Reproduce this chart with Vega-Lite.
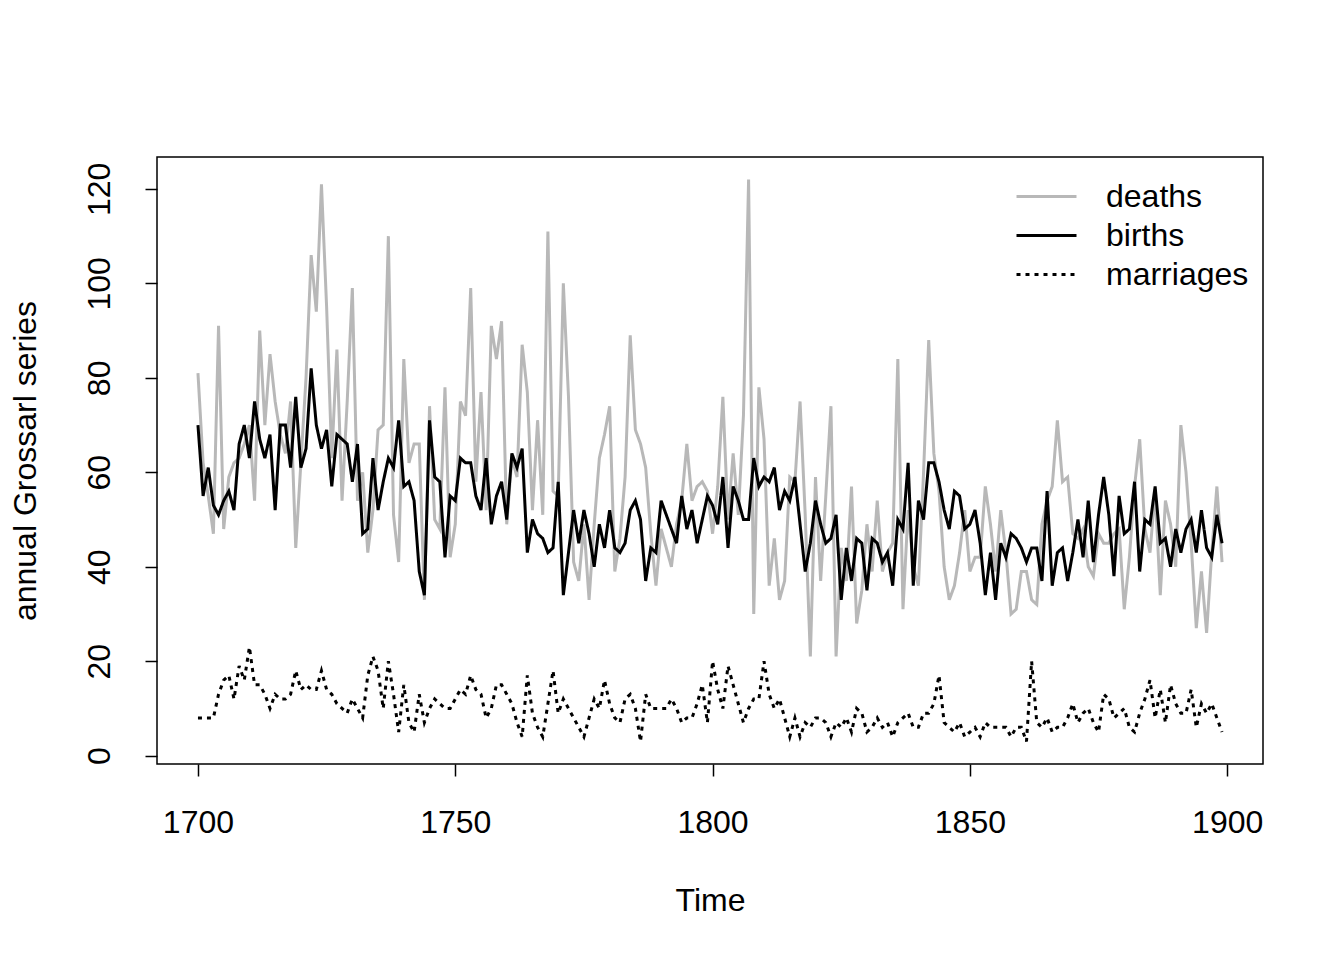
{
  "$schema": "https://vega.github.io/schema/vega-lite/v6.json",
  "autosize": "none",
  "width": 1106,
  "height": 607,
  "padding": {"left": 157, "top": 157, "right": 81, "bottom": 196},
  "background": "white",
  "config": {
    "font": "Liberation Sans",
    "view": {"stroke": "black", "strokeWidth": 1.5},
    "axis": {
      "grid": false,
      "domain": false,
      "tickColor": "black",
      "tickWidth": 1.5,
      "tickSize": 12,
      "labelColor": "black",
      "labelFontSize": 32,
      "labelFont": "Liberation Sans",
      "titleColor": "black",
      "titleFontSize": 32,
      "titleFont": "Liberation Sans",
      "titleFontWeight": "normal"
    }
  },
  "data": {
    "values": [
      {"year": 1700, "deaths": 81, "births": 70, "marriages": 8},
      {"year": 1701, "deaths": 62, "births": 55, "marriages": 8},
      {"year": 1702, "deaths": 55, "births": 61, "marriages": 8},
      {"year": 1703, "deaths": 47, "births": 53, "marriages": 8},
      {"year": 1704, "deaths": 91, "births": 51, "marriages": 13},
      {"year": 1705, "deaths": 48, "births": 54, "marriages": 16},
      {"year": 1706, "deaths": 59, "births": 56, "marriages": 17},
      {"year": 1707, "deaths": 62, "births": 52, "marriages": 12},
      {"year": 1708, "deaths": 63, "births": 66, "marriages": 19},
      {"year": 1709, "deaths": 66, "births": 70, "marriages": 16},
      {"year": 1710, "deaths": 70, "births": 63, "marriages": 23},
      {"year": 1711, "deaths": 54, "births": 75, "marriages": 15},
      {"year": 1712, "deaths": 90, "births": 67, "marriages": 15},
      {"year": 1713, "deaths": 70, "births": 63, "marriages": 13},
      {"year": 1714, "deaths": 85, "births": 68, "marriages": 10},
      {"year": 1715, "deaths": 75, "births": 52, "marriages": 13},
      {"year": 1716, "deaths": 68, "births": 70, "marriages": 12},
      {"year": 1717, "deaths": 64, "births": 70, "marriages": 12},
      {"year": 1718, "deaths": 75, "births": 61, "marriages": 13},
      {"year": 1719, "deaths": 44, "births": 76, "marriages": 18},
      {"year": 1720, "deaths": 62, "births": 61, "marriages": 14},
      {"year": 1721, "deaths": 80, "births": 65, "marriages": 15},
      {"year": 1722, "deaths": 106, "births": 82, "marriages": 14},
      {"year": 1723, "deaths": 94, "births": 70, "marriages": 14},
      {"year": 1724, "deaths": 121, "births": 65, "marriages": 18},
      {"year": 1725, "deaths": 95, "births": 69, "marriages": 14},
      {"year": 1726, "deaths": 63, "births": 57, "marriages": 13},
      {"year": 1727, "deaths": 86, "births": 68, "marriages": 11},
      {"year": 1728, "deaths": 54, "births": 67, "marriages": 10},
      {"year": 1729, "deaths": 75, "births": 66, "marriages": 9},
      {"year": 1730, "deaths": 99, "births": 58, "marriages": 12},
      {"year": 1731, "deaths": 54, "births": 66, "marriages": 10},
      {"year": 1732, "deaths": 60, "births": 47, "marriages": 8},
      {"year": 1733, "deaths": 43, "births": 48, "marriages": 17},
      {"year": 1734, "deaths": 52, "births": 63, "marriages": 21},
      {"year": 1735, "deaths": 69, "births": 52, "marriages": 18},
      {"year": 1736, "deaths": 70, "births": 58, "marriages": 10},
      {"year": 1737, "deaths": 110, "births": 63, "marriages": 20},
      {"year": 1738, "deaths": 51, "births": 61, "marriages": 13},
      {"year": 1739, "deaths": 41, "births": 71, "marriages": 5},
      {"year": 1740, "deaths": 84, "births": 57, "marriages": 15},
      {"year": 1741, "deaths": 62, "births": 58, "marriages": 7},
      {"year": 1742, "deaths": 66, "births": 54, "marriages": 5},
      {"year": 1743, "deaths": 66, "births": 39, "marriages": 13},
      {"year": 1744, "deaths": 33, "births": 34, "marriages": 7},
      {"year": 1745, "deaths": 74, "births": 71, "marriages": 10},
      {"year": 1746, "deaths": 50, "births": 59, "marriages": 12},
      {"year": 1747, "deaths": 48, "births": 58, "marriages": 11},
      {"year": 1748, "deaths": 78, "births": 42, "marriages": 10},
      {"year": 1749, "deaths": 42, "births": 55, "marriages": 10},
      {"year": 1750, "deaths": 49, "births": 54, "marriages": 12},
      {"year": 1751, "deaths": 75, "births": 63, "marriages": 14},
      {"year": 1752, "deaths": 72, "births": 62, "marriages": 13},
      {"year": 1753, "deaths": 99, "births": 62, "marriages": 17},
      {"year": 1754, "deaths": 58, "births": 55, "marriages": 14},
      {"year": 1755, "deaths": 77, "births": 52, "marriages": 13},
      {"year": 1756, "deaths": 52, "births": 63, "marriages": 8},
      {"year": 1757, "deaths": 91, "births": 49, "marriages": 10},
      {"year": 1758, "deaths": 84, "births": 55, "marriages": 15},
      {"year": 1759, "deaths": 92, "births": 58, "marriages": 15},
      {"year": 1760, "deaths": 49, "births": 50, "marriages": 13},
      {"year": 1761, "deaths": 63, "births": 64, "marriages": 11},
      {"year": 1762, "deaths": 59, "births": 61, "marriages": 7},
      {"year": 1763, "deaths": 87, "births": 65, "marriages": 4},
      {"year": 1764, "deaths": 77, "births": 43, "marriages": 17},
      {"year": 1765, "deaths": 52, "births": 50, "marriages": 9},
      {"year": 1766, "deaths": 71, "births": 47, "marriages": 6},
      {"year": 1767, "deaths": 51, "births": 46, "marriages": 4},
      {"year": 1768, "deaths": 111, "births": 43, "marriages": 11},
      {"year": 1769, "deaths": 56, "births": 44, "marriages": 18},
      {"year": 1770, "deaths": 55, "births": 58, "marriages": 9},
      {"year": 1771, "deaths": 100, "births": 34, "marriages": 12},
      {"year": 1772, "deaths": 76, "births": 43, "marriages": 10},
      {"year": 1773, "deaths": 41, "births": 52, "marriages": 8},
      {"year": 1774, "deaths": 37, "births": 45, "marriages": 6},
      {"year": 1775, "deaths": 49, "births": 52, "marriages": 4},
      {"year": 1776, "deaths": 33, "births": 47, "marriages": 8},
      {"year": 1777, "deaths": 49, "births": 40, "marriages": 12},
      {"year": 1778, "deaths": 63, "births": 49, "marriages": 10},
      {"year": 1779, "deaths": 68, "births": 44, "marriages": 16},
      {"year": 1780, "deaths": 74, "births": 52, "marriages": 11},
      {"year": 1781, "deaths": 39, "births": 44, "marriages": 8},
      {"year": 1782, "deaths": 46, "births": 43, "marriages": 7},
      {"year": 1783, "deaths": 59, "births": 45, "marriages": 12},
      {"year": 1784, "deaths": 89, "births": 52, "marriages": 13},
      {"year": 1785, "deaths": 69, "births": 54, "marriages": 10},
      {"year": 1786, "deaths": 66, "births": 50, "marriages": 3},
      {"year": 1787, "deaths": 61, "births": 37, "marriages": 13},
      {"year": 1788, "deaths": 47, "births": 44, "marriages": 10},
      {"year": 1789, "deaths": 36, "births": 43, "marriages": 10},
      {"year": 1790, "deaths": 48, "births": 54, "marriages": 10},
      {"year": 1791, "deaths": 44, "births": 51, "marriages": 10},
      {"year": 1792, "deaths": 40, "births": 48, "marriages": 12},
      {"year": 1793, "deaths": 49, "births": 45, "marriages": 10},
      {"year": 1794, "deaths": 54, "births": 55, "marriages": 7},
      {"year": 1795, "deaths": 66, "births": 48, "marriages": 8},
      {"year": 1796, "deaths": 54, "births": 52, "marriages": 8},
      {"year": 1797, "deaths": 57, "births": 45, "marriages": 11},
      {"year": 1798, "deaths": 58, "births": 50, "marriages": 15},
      {"year": 1799, "deaths": 56, "births": 55, "marriages": 7},
      {"year": 1800, "deaths": 47, "births": 53, "marriages": 20},
      {"year": 1801, "deaths": 57, "births": 49, "marriages": 14},
      {"year": 1802, "deaths": 76, "births": 59, "marriages": 10},
      {"year": 1803, "deaths": 50, "births": 44, "marriages": 19},
      {"year": 1804, "deaths": 64, "births": 57, "marriages": 15},
      {"year": 1805, "deaths": 51, "births": 54, "marriages": 11},
      {"year": 1806, "deaths": 72, "births": 50, "marriages": 7},
      {"year": 1807, "deaths": 122, "births": 50, "marriages": 10},
      {"year": 1808, "deaths": 30, "births": 63, "marriages": 12},
      {"year": 1809, "deaths": 78, "births": 57, "marriages": 12},
      {"year": 1810, "deaths": 67, "births": 59, "marriages": 20},
      {"year": 1811, "deaths": 36, "births": 58, "marriages": 13},
      {"year": 1812, "deaths": 46, "births": 61, "marriages": 10},
      {"year": 1813, "deaths": 33, "births": 52, "marriages": 12},
      {"year": 1814, "deaths": 37, "births": 56, "marriages": 8},
      {"year": 1815, "deaths": 59, "births": 54, "marriages": 4},
      {"year": 1816, "deaths": 58, "births": 59, "marriages": 8},
      {"year": 1817, "deaths": 75, "births": 49, "marriages": 4},
      {"year": 1818, "deaths": 51, "births": 39, "marriages": 7},
      {"year": 1819, "deaths": 21, "births": 45, "marriages": 6},
      {"year": 1820, "deaths": 59, "births": 54, "marriages": 8},
      {"year": 1821, "deaths": 37, "births": 49, "marriages": 8},
      {"year": 1822, "deaths": 55, "births": 45, "marriages": 7},
      {"year": 1823, "deaths": 74, "births": 46, "marriages": 4},
      {"year": 1824, "deaths": 21, "births": 51, "marriages": 7},
      {"year": 1825, "deaths": 44, "births": 33, "marriages": 6},
      {"year": 1826, "deaths": 37, "births": 44, "marriages": 8},
      {"year": 1827, "deaths": 57, "births": 37, "marriages": 5},
      {"year": 1828, "deaths": 28, "births": 46, "marriages": 10},
      {"year": 1829, "deaths": 35, "births": 45, "marriages": 9},
      {"year": 1830, "deaths": 49, "births": 35, "marriages": 5},
      {"year": 1831, "deaths": 39, "births": 46, "marriages": 6},
      {"year": 1832, "deaths": 54, "births": 45, "marriages": 8},
      {"year": 1833, "deaths": 39, "births": 41, "marriages": 6},
      {"year": 1834, "deaths": 43, "births": 43, "marriages": 7},
      {"year": 1835, "deaths": 45, "births": 36, "marriages": 4},
      {"year": 1836, "deaths": 84, "births": 50, "marriages": 7},
      {"year": 1837, "deaths": 31, "births": 48, "marriages": 8},
      {"year": 1838, "deaths": 52, "births": 62, "marriages": 9},
      {"year": 1839, "deaths": 40, "births": 36, "marriages": 6},
      {"year": 1840, "deaths": 36, "births": 54, "marriages": 6},
      {"year": 1841, "deaths": 60, "births": 50, "marriages": 9},
      {"year": 1842, "deaths": 88, "births": 62, "marriages": 9},
      {"year": 1843, "deaths": 64, "births": 62, "marriages": 11},
      {"year": 1844, "deaths": 56, "births": 58, "marriages": 17},
      {"year": 1845, "deaths": 40, "births": 52, "marriages": 7},
      {"year": 1846, "deaths": 33, "births": 48, "marriages": 6},
      {"year": 1847, "deaths": 36, "births": 56, "marriages": 5},
      {"year": 1848, "deaths": 43, "births": 55, "marriages": 7},
      {"year": 1849, "deaths": 52, "births": 48, "marriages": 4},
      {"year": 1850, "deaths": 39, "births": 49, "marriages": 5},
      {"year": 1851, "deaths": 42, "births": 52, "marriages": 6},
      {"year": 1852, "deaths": 42, "births": 45, "marriages": 4},
      {"year": 1853, "deaths": 57, "births": 34, "marriages": 7},
      {"year": 1854, "deaths": 49, "births": 43, "marriages": 6},
      {"year": 1855, "deaths": 39, "births": 33, "marriages": 6},
      {"year": 1856, "deaths": 52, "births": 45, "marriages": 6},
      {"year": 1857, "deaths": 43, "births": 42, "marriages": 6},
      {"year": 1858, "deaths": 30, "births": 47, "marriages": 4},
      {"year": 1859, "deaths": 31, "births": 46, "marriages": 6},
      {"year": 1860, "deaths": 39, "births": 44, "marriages": 6},
      {"year": 1861, "deaths": 39, "births": 41, "marriages": 3},
      {"year": 1862, "deaths": 33, "births": 44, "marriages": 20},
      {"year": 1863, "deaths": 32, "births": 44, "marriages": 7},
      {"year": 1864, "deaths": 49, "births": 37, "marriages": 6},
      {"year": 1865, "deaths": 54, "births": 56, "marriages": 8},
      {"year": 1866, "deaths": 57, "births": 36, "marriages": 5},
      {"year": 1867, "deaths": 71, "births": 43, "marriages": 6},
      {"year": 1868, "deaths": 58, "births": 44, "marriages": 6},
      {"year": 1869, "deaths": 59, "births": 37, "marriages": 8},
      {"year": 1870, "deaths": 47, "births": 43, "marriages": 11},
      {"year": 1871, "deaths": 46, "births": 50, "marriages": 7},
      {"year": 1872, "deaths": 48, "births": 42, "marriages": 9},
      {"year": 1873, "deaths": 40, "births": 54, "marriages": 10},
      {"year": 1874, "deaths": 38, "births": 41, "marriages": 7},
      {"year": 1875, "deaths": 47, "births": 51, "marriages": 5},
      {"year": 1876, "deaths": 45, "births": 59, "marriages": 13},
      {"year": 1877, "deaths": 45, "births": 51, "marriages": 12},
      {"year": 1878, "deaths": 47, "births": 38, "marriages": 8},
      {"year": 1879, "deaths": 48, "births": 55, "marriages": 9},
      {"year": 1880, "deaths": 31, "births": 47, "marriages": 10},
      {"year": 1881, "deaths": 42, "births": 48, "marriages": 6},
      {"year": 1882, "deaths": 57, "births": 58, "marriages": 5},
      {"year": 1883, "deaths": 67, "births": 39, "marriages": 9},
      {"year": 1884, "deaths": 48, "births": 50, "marriages": 12},
      {"year": 1885, "deaths": 43, "births": 49, "marriages": 16},
      {"year": 1886, "deaths": 56, "births": 57, "marriages": 8},
      {"year": 1887, "deaths": 34, "births": 45, "marriages": 14},
      {"year": 1888, "deaths": 54, "births": 46, "marriages": 7},
      {"year": 1889, "deaths": 49, "births": 40, "marriages": 15},
      {"year": 1890, "deaths": 40, "births": 48, "marriages": 11},
      {"year": 1891, "deaths": 70, "births": 43, "marriages": 9},
      {"year": 1892, "deaths": 60, "births": 48, "marriages": 9},
      {"year": 1893, "deaths": 45, "births": 50, "marriages": 14},
      {"year": 1894, "deaths": 27, "births": 43, "marriages": 6},
      {"year": 1895, "deaths": 39, "births": 52, "marriages": 11},
      {"year": 1896, "deaths": 26, "births": 44, "marriages": 9},
      {"year": 1897, "deaths": 43, "births": 42, "marriages": 11},
      {"year": 1898, "deaths": 57, "births": 51, "marriages": 8},
      {"year": 1899, "deaths": 41, "births": 45, "marriages": 5}
    ]
  },
  "transform": [
    {"fold": ["deaths", "births", "marriages"], "as": ["series", "count"]}
  ],
  "encoding": {
    "x": {
      "field": "year",
      "type": "quantitative",
      "title": "Time",
      "scale": {"domain": [1692.04, 1906.96], "nice": false, "zero": false},
      "axis": {"values": [1700, 1750, 1800, 1850, 1900], "format": "d", "labelPadding": 31, "titlePadding": 47}
    },
    "y": {
      "field": "count",
      "type": "quantitative",
      "title": "annual Grossarl series",
      "scale": {"domain": [-1.76, 126.76], "nice": false, "zero": false},
      "axis": {
        "values": [0, 20, 40, 60, 80, 100, 120],
        "labelAngle": 270,
        "labelAlign": "center",
        "labelBaseline": "bottom",
        "labelPadding": 29,
        "titlePadding": 41
      }
    },
    "color": {
      "field": "series",
      "type": "nominal",
      "scale": {"domain": ["deaths", "births", "marriages"], "range": ["#b8b8b8", "black", "black"]},
      "legend": {
        "title": null,
        "orient": "none",
        "legendX": 858,
        "legendY": 20,
        "symbolType": "stroke",
        "symbolSize": 3600,
        "symbolStrokeWidth": 3,
        "labelFontSize": 32,
        "labelFont": "Liberation Sans",
        "labelColor": "black",
        "labelOffset": 28,
        "clipHeight": 39,
        "rowPadding": 0
      }
    },
    "strokeDash": {
      "field": "series",
      "type": "nominal",
      "scale": {"domain": ["deaths", "births", "marriages"], "range": [[1, 0], [1, 0], [4, 5]]},
      "legend": {
        "title": null,
        "orient": "none",
        "legendX": 858,
        "legendY": 20,
        "symbolType": "stroke",
        "symbolSize": 3600,
        "symbolStrokeWidth": 3,
        "labelFontSize": 32,
        "labelFont": "Liberation Sans",
        "labelColor": "black",
        "labelOffset": 28,
        "clipHeight": 39,
        "rowPadding": 0
      }
    }
  },
  "layer": [
    {
      "transform": [{"filter": "datum.series === 'deaths'"}],
      "mark": {"type": "line", "strokeWidth": 3}
    },
    {
      "transform": [{"filter": "datum.series === 'births'"}],
      "mark": {"type": "line", "strokeWidth": 3}
    },
    {
      "transform": [{"filter": "datum.series === 'marriages'"}],
      "mark": {"type": "line", "strokeWidth": 3}
    }
  ]
}
